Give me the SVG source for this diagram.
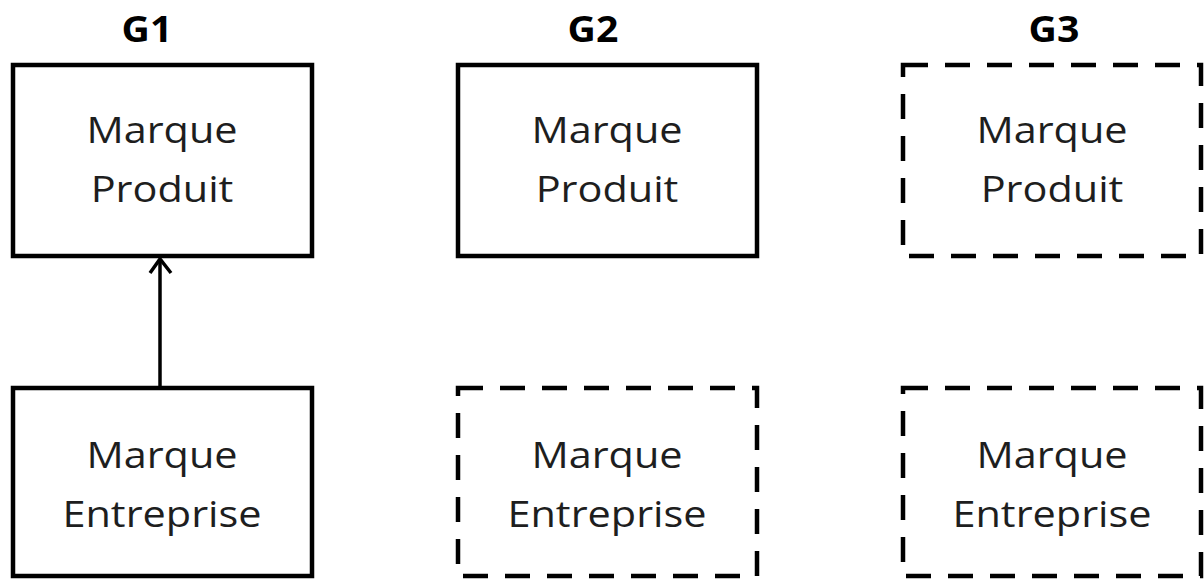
<svg xmlns="http://www.w3.org/2000/svg" width="1204" height="579" viewBox="0 0 1204 579">
<style>
.box{fill:#fff;stroke:#000;stroke-width:4.5}
.dash{stroke-dasharray:25 17;stroke-dashoffset:0}
.lbl{font-family:"Open Sans","Liberation Sans",sans-serif;font-size:37px;fill:#1e1e1e;text-anchor:middle}
.ttl{font-family:"Open Sans","Liberation Sans",sans-serif;font-size:35px;font-weight:bold;fill:#000;text-anchor:middle}
.conn{stroke:#000;stroke-width:3.5;fill:none}
</style>
<rect width="1204" height="579" fill="#fff"/>
<g id="titles">
<text class="ttl" transform="translate(147,42) scale(1.12,1)">G1</text>
<text class="ttl" transform="translate(593,42) scale(1.12,1)">G2</text>
<text class="ttl" transform="translate(1054,42) scale(1.12,1)">G3</text>
</g>
<g id="g1-produit">
<rect class="box" x="13" y="65" width="299" height="191"/>
<text class="lbl" transform="translate(162,143) scale(1.12,1)">Marque</text>
<text class="lbl" transform="translate(162,202) scale(1.12,1)">Produit</text>
</g>
<g id="g1-entreprise">
<rect class="box" x="13" y="388" width="299" height="188"/>
<text class="lbl" transform="translate(162,468) scale(1.12,1)">Marque</text>
<text class="lbl" transform="translate(162,527) scale(1.12,1)">Entreprise</text>
</g>
<g id="g2-produit">
<rect class="box" x="458" y="65" width="299" height="191"/>
<text class="lbl" transform="translate(607,143) scale(1.12,1)">Marque</text>
<text class="lbl" transform="translate(607,202) scale(1.12,1)">Produit</text>
</g>
<g id="g2-entreprise">
<rect class="box dash" x="458" y="388" width="299" height="188"/>
<text class="lbl" transform="translate(607,468) scale(1.12,1)">Marque</text>
<text class="lbl" transform="translate(607,527) scale(1.12,1)">Entreprise</text>
</g>
<g id="g3-produit">
<rect class="box dash" x="903" y="65" width="298" height="191"/>
<text class="lbl" transform="translate(1052,143) scale(1.12,1)">Marque</text>
<text class="lbl" transform="translate(1052,202) scale(1.12,1)">Produit</text>
</g>
<g id="g3-entreprise">
<rect class="box dash" x="903" y="388" width="298" height="188"/>
<text class="lbl" transform="translate(1052,468) scale(1.12,1)">Marque</text>
<text class="lbl" transform="translate(1052,527) scale(1.12,1)">Entreprise</text>
</g>
<g id="connectors">
<line class="conn" x1="160" y1="386" x2="160" y2="260"/>
<polyline class="conn" points="150,273 160,259 171,273"/>
</g>
</svg>
